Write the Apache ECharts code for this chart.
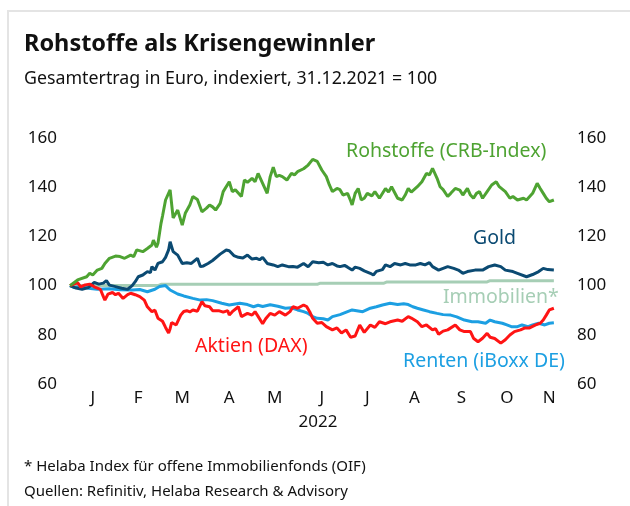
<!DOCTYPE html>
<html>
<head>
<meta charset="utf-8">
<script src="https://cdn.jsdelivr.net/npm/echarts@6/dist/echarts.min.js"></script>
<style>
  html, body { margin: 0; padding: 0; background: #fff; }
  #main { width: 630px; height: 506px; }
</style>
</head>
<body>
<div id="main"></div>
<script>
// Tage seit 31.12.2021, Index-Werte
var monthLabels = ['J', 'F', 'M', 'A', 'M', 'J', 'J', 'A', 'S', 'O', 'N'];
var monthPos = [15, 45, 74, 105, 135, 166, 196, 227, 258, 288, 316];
var yTicks = [60, 80, 100, 120, 140, 160];

var rohstoffe = [
  [0,100],[5,102.3],[11,103.6],[13,105],[15,104.3],[18,106.3],[21,107],[23,109],[26,111.1],[30,112],
  [33,111.8],[36,111.1],[40,112.4],[42,111.8],[44,114.5],[45,113.8],[48,113.8],[51,115.1],[54,116.5],[55,118.5],
  [57,115.6],[58,117.2],[60,125.3],[61,128.3],[63,134.8],[66,138.9],[68,127.5],[71,130.7],[74,124.6],[76,129.4],
  [79,132.8],[81,136.2],[84,135],[87,130],[90,131.5],[92,132.8],[94,132],[96,130.7],[99,133.4],[101,138.2],
  [105,142.2],[107,138.2],[109,139],[113,136.2],[115,142.9],[117,142],[120,143.6],[122,142.2],[124,145.6],[127,141.6],
  [130,137.5],[132,144.3],[134,148.1],[136,144.3],[138,144.8],[140,144.3],[143,142.9],[146,145.6],[148,145],[150,146.3],
  [154,147.5],[157,149],[160,151.3],[163,150.5],[166,147],[169,144.3],[171,140.9],[173,138.2],[176,139.5],[178,139],
  [180,136.8],[183,137.5],[185,134.5],[186,132.8],[188,137.5],[190,139.5],[192,134.8],[194,135.5],[196,137.5],[199,136.5],
  [201,138.2],[204,135.5],[208,139.5],[210,138],[212,140.2],[216,135.5],[219,134.8],[221,136.8],[223,139.5],[225,138],
  [229,140.2],[232,142.2],[235,145.6],[237,145],[239,147.7],[242,143.6],[244,140.2],[246,139],[249,136.2],[251,137.5],
  [254,139.5],[257,138.8],[259,136.8],[262,139.5],[264,136.8],[266,135.5],[268,137.5],[270,138.2],[272,135.5],[275,138.2],
  [278,140.9],[281,142.2],[283,140.2],[287,138.2],[290,135.5],[292,136.2],[295,134.8],[299,135.5],[301,134.8],[305,137.5],
  [308,141.6],[310,139.5],[312,137.5],[314,135.5],[316,134.1],[319,134.8]
];

var gold = [
  [0,100],[4,99],[8,98.5],[12,99.2],[16,101.3],[19,100.6],[22,101],[24,102],[26,100.2],[30,99.6],
  [34,98.9],[38,98.5],[41,100],[43,101.6],[45,103.6],[48,104.3],[51,105.7],[53,105.3],[54,107.7],[56,106.3],
  [58,109],[61,109.7],[63,111.5],[65,114.5],[66,117.8],[68,113.8],[71,112.4],[74,109],[77,109.3],[80,109],
  [84,111.1],[86,107.7],[88,108],[91,109],[94,110.2],[99,112.8],[103,114.5],[105,114.2],[108,112.2],[111,111.5],
  [114,111.2],[117,112.4],[120,110.8],[123,111.1],[125,110.5],[127,111.5],[130,109],[134,108.4],[137,107.7],[140,108.4],
  [144,107.7],[147,107.8],[150,107.5],[154,109],[157,107.7],[160,109.7],[164,109.3],[167,109.5],[170,108.4],[173,109],
  [176,108],[178,107.7],[181,108.2],[183,107.5],[186,106.3],[188,107.5],[191,107],[194,106],[198,105],[200,104.3],
  [202,105.8],[206,106.5],[208,108.4],[211,107.7],[214,109],[218,108.4],[221,109],[224,108.4],[228,108.4],[231,109],
  [234,108.4],[237,109.3],[239,107.7],[243,106.3],[246,107],[249,107.7],[253,107],[256,106.3],[259,105],[262,105.7],
  [267,106.3],[272,106.3],[276,107.7],[280,108.4],[284,107.7],[287,106.3],[292,105.7],[295,105],[301,103.6],[305,104.5],
  [309,105.7],[312,107],[315,106.5],[319,106.3]
];

var immobilien = [
  [0,100],[58,100],[60,100.5],[163,100.5],[165,101],[207,101],[209,101.5],[275,101.5],[277,102],[319,102]
];

var renten = [
  [0,100],[3,99.2],[7,99.5],[12,98.9],[18,98.5],[26,98.7],[33,98.3],[41,98.2],[46,98.4],[51,97.5],
  [56,98.5],[59,99.6],[63,100],[66,98.2],[71,96.6],[75,95.8],[81,94.8],[86,94.1],[90,94.3],[94,93.9],
  [100,92.8],[105,92.1],[112,92.8],[117,92.3],[121,91.4],[124,92],[127,91.5],[132,92.2],[137,91.6],[142,90.8],
  [146,91],[150,90.1],[154,89.4],[157,88.7],[160,87.4],[163,86.7],[167,86.5],[170,86],[173,87.4],[178,88.2],
  [183,89.4],[186,90.1],[189,89.8],[193,89.4],[198,90.8],[202,91.4],[206,92.1],[211,92.8],[216,92.3],[220,92.6],
  [223,92.3],[226,91.4],[229,90.8],[233,90.1],[237,89.4],[242,88.7],[246,88.2],[251,88],[255,87.3],[260,86],
  [265,85.3],[269,85.3],[274,84.7],[277,86],[280,85.3],[285,84.7],[288,84],[291,83.3],[295,83.3],[298,84],
  [302,83.3],[305,84],[309,84.7],[313,84],[316,84.7],[319,84.9]
];

var aktien = [
  [0,100],[5,101.2],[7,99.5],[10,100.3],[13,100.6],[16,99.5],[20,98.5],[22,95.5],[23,94.1],[25,96.5],
  [28,97.2],[30,96.3],[32,96.9],[35,94.8],[38,96.3],[40,96.9],[43,96.3],[46,95.5],[49,94.1],[51,91.4],
  [54,89.4],[56,90],[58,86.7],[61,85.5],[63,83],[65,80.7],[66,82.5],[67,85],[70,84],[73,88],
  [75,89.5],[77,89.8],[79,89.3],[81,90.1],[84,89.6],[87,93.5],[89,91.8],[92,91.4],[94,89.8],[98,89.8],
  [101,89.2],[104,89.8],[105,88],[107,89.4],[111,91.4],[113,87.4],[117,88.7],[120,88],[122,89.4],[124,87.5],
  [127,84.5],[129,86.5],[132,88.7],[135,88],[138,89.4],[142,88],[145,89.4],[147,91.4],[150,90.8],[154,92.1],
  [156,91.5],[158,89.4],[160,86.7],[163,84.7],[166,85],[169,83.3],[173,82],[176,82.8],[179,80.7],[182,82],
  [185,79],[188,79.5],[191,84],[194,81],[198,84],[201,83],[204,85.3],[208,84.5],[211,85.3],[216,86],
  [219,85.5],[223,87.4],[225,86.8],[229,85.3],[232,83.3],[235,84],[239,82],[241,82.5],[243,80.2],[246,81.5],
  [249,82],[254,84],[257,82],[260,81.3],[264,81.3],[266,78.6],[269,77.2],[272,78.6],[275,80.6],[277,79],
  [280,78.5],[284,76.6],[287,78],[290,79.9],[293,81.3],[297,82],[300,82.8],[303,82.8],[307,84],[310,84.7],
  [312,86],[314,88],[316,90.1],[319,90.8]
];

var myChart = echarts.init(document.getElementById('main'));

var fontFam = '"Noto Sans", sans-serif';

function yAxisCfg(pos, margin) {
  return {
    type: 'value',
    position: pos,
    min: yTicks[0],
    max: yTicks[yTicks.length - 1],
    interval: 20,
    axisLine: { show: false },
    axisTick: { show: false },
    splitLine: { show: false },
    axisLabel: { margin: margin, fontSize: 17, color: '#111', fontFamily: fontFam }
  };
}

function lineSeries(name, data, color, width) {
  return {
    name: name,
    type: 'line',
    data: data,
    showSymbol: false,
    symbol: 'none',
    lineStyle: { color: color, width: width },
    itemStyle: { color: color },
    silent: true,
    animation: false
  };
}

function label(text, x, y, color, size, weight) {
  return {
    type: 'text',
    left: x,
    top: y,
    style: {
      text: text,
      fill: color,
      fontSize: size,
      fontWeight: weight || 'normal',
      fontFamily: fontFam
    }
  };
}

myChart.setOption({
  animation: false,
  grid: { left: 70, right: 64, top: 138, bottom: 122 },
  xAxis: {
    type: 'value',
    min: 0,
    max: 327,
    axisLine: { show: false },
    axisTick: { show: false },
    splitLine: { show: false },
    axisLabel: {
      customValues: monthPos,
      margin: 6,
      fontSize: 17,
      color: '#111',
      fontFamily: fontFam,
      formatter: function (v) {
        var i = monthPos.indexOf(v);
        return i >= 0 ? monthLabels[i] : '';
      }
    },
    name: '2022',
    nameLocation: 'middle',
    nameGap: 30,
    nameTextStyle: { fontSize: 17, color: '#111', fontFamily: fontFam }
  },
  yAxis: [yAxisCfg('left', 13), yAxisCfg('right', 11)],
  graphic: [
    {
      type: 'rect',
      shape: { x: 8, y: 11, width: 700, height: 600 },
      style: { fill: 'none', stroke: '#e4e4e4', lineWidth: 2 },
      silent: true
    },
    label('Rohstoffe als Krisengewinnler', 24, 32, '#111', 23.5, 'bold'),
    label('Gesamtertrag in Euro, indexiert, 31.12.2021 = 100', 24, 70, '#111', 17.8),
    label('Rohstoffe (CRB-Index)', 346, 141, '#4ea332', 19.5),
    label('Gold', 473, 228, '#0b4a72', 19.5),
    label('Immobilien*', 443, 287, '#a6ceb5', 19.5),
    label('Aktien (DAX)', 195, 336, '#ff1414', 19.5),
    label('Renten (iBoxx DE)', 403, 351, '#1c9fe2', 19.5),
    label('* Helaba Index für offene Immobilienfonds (OIF)', 24, 459, '#111', 15),
    label('Quellen: Refinitiv, Helaba Research & Advisory', 24, 484, '#111', 15)
  ],
  series: [
    lineSeries('Immobilien', immobilien, '#a6ceb5', 3),
    lineSeries('Renten (iBoxx DE)', renten, '#1c9fe2', 3),
    lineSeries('Gold', gold, '#0b4a72', 3),
    lineSeries('Aktien (DAX)', aktien, '#ff1414', 3),
    lineSeries('Rohstoffe (CRB-Index)', rohstoffe, '#4ea332', 3)
  ]
});
</script>
</body>
</html>
